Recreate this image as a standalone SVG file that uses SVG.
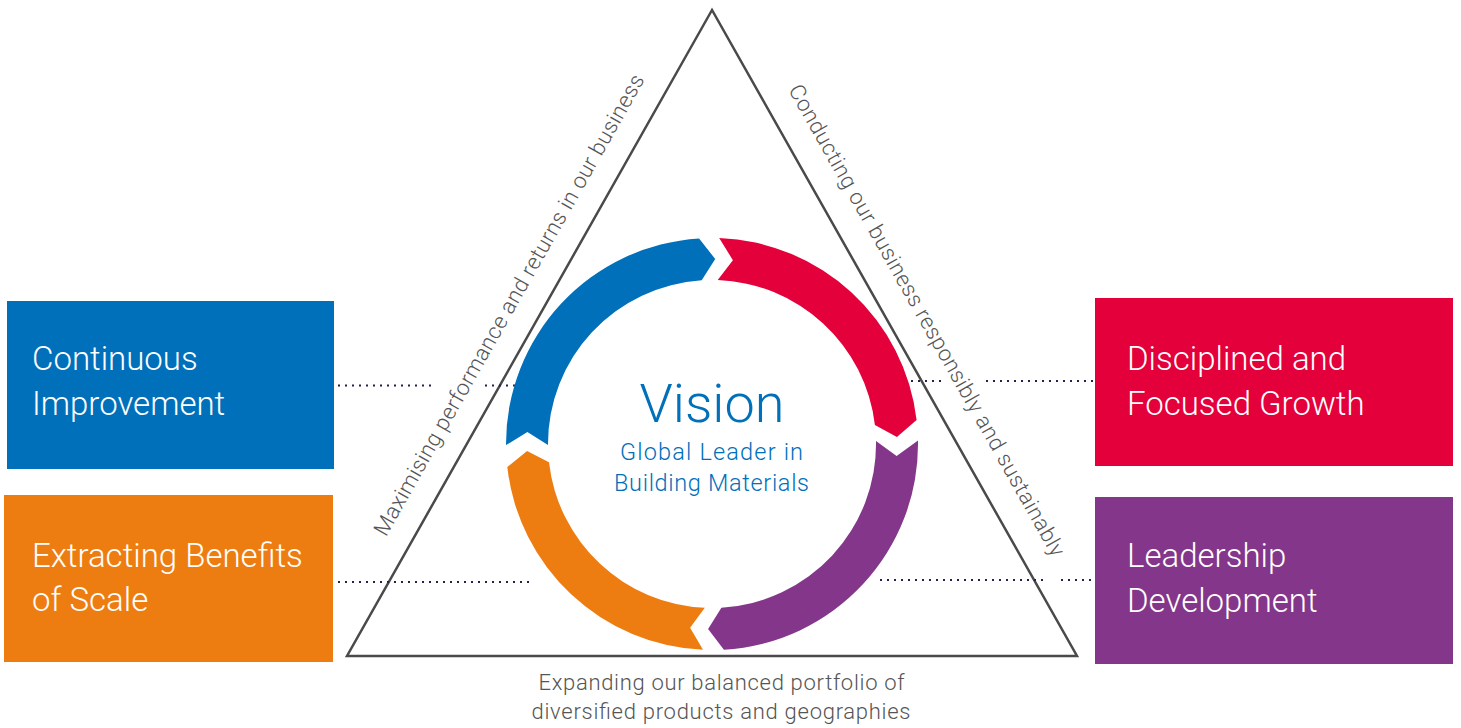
<svg xmlns="http://www.w3.org/2000/svg" width="1461" height="728" viewBox="0 0 1461 728">
<style>
.box-text{font-family:Roboto,"Open Sans","Liberation Sans",sans-serif;font-weight:300;font-size:33px;fill:#ffffff}
.side{font-family:Roboto,"Open Sans","Liberation Sans",sans-serif;font-weight:300;font-size:22px;fill:#555555}
.vision{font-family:Roboto,"Open Sans","Liberation Sans",sans-serif;font-weight:300;fill:#0070BA;text-anchor:middle}
.dots{stroke:#22224f;stroke-width:2;stroke-dasharray:2 5;fill:none}
</style>
<rect width="1461" height="728" fill="#ffffff"/>

<g id="triangle">
<polygon points="712,10 347,656 1077,656" fill="none" stroke="#4a4a4a" stroke-width="2.5" stroke-linejoin="miter"/>
</g>

<g id="connectors">
<line class="dots" x1="338" y1="385.5" x2="434" y2="385.5"/>
<line class="dots" x1="485" y1="385.5" x2="520" y2="385.5"/>
<line class="dots" x1="911" y1="381" x2="942" y2="381"/>
<line class="dots" x1="986" y1="381" x2="1094" y2="381"/>
<line class="dots" x1="338" y1="582" x2="530" y2="582"/>
<line class="dots" x1="880" y1="580" x2="1048" y2="580"/>
<line class="dots" x1="1061" y1="580" x2="1094" y2="580"/>
</g>

<g id="ring">
<path id="arrow-blue" fill="#0070BA" d="M506,445.1 A206,206 0 0 1 699.1,238.4 L715.2,259 L701.7,280.3 A164,164 0 0 0 548,444.9 L527.4,432.1 Z"/>
<path id="arrow-red" fill="#E4003B" d="M719.2,238.1 A206,206 0 0 1 916.6,420 L896.9,436.9 L874.9,424.9 A164,164 0 0 0 717.7,280.1 L732.9,260.2 Z"/>
<path id="arrow-purple" fill="#84378A" d="M918,440.4 A206,206 0 0 1 723.9,649.7 L708.1,629 L721.4,607.7 A164,164 0 0 0 876,441.1 L896.6,455.9 Z"/>
<path id="arrow-orange" fill="#EE7D11" d="M703,649.8 A206,206 0 0 1 507.3,467 L527.1,451.1 L549,462.3 A164,164 0 0 0 704.8,607.8 L690.1,627.7 Z"/>
</g>

<g id="vision">
<text class="vision" x="712" y="422" font-size="54">Vision</text>
<text class="vision" x="711.5" y="460" font-size="23.5" textLength="183" lengthAdjust="spacing">Global Leader in</text>
<text class="vision" x="711.5" y="491" font-size="23.5" textLength="195" lengthAdjust="spacing">Building Materials</text>
</g>

<g id="side-left">
<text class="side" text-anchor="middle" transform="translate(515.5,308.5) rotate(-60.5)" x="0" y="0" textLength="526" lengthAdjust="spacing">Maximising performance and returns in our business</text>
</g>
<g id="side-right">
<text class="side" text-anchor="middle" transform="translate(920.5,324) rotate(60.5)" x="0" y="0" textLength="538" lengthAdjust="spacing">Conducting our business responsibly and sustainably</text>
</g>
<g id="side-bottom">
<text class="side" text-anchor="middle" x="721.5" y="690" textLength="366" lengthAdjust="spacing">Expanding our balanced portfolio of</text>
<text class="side" text-anchor="middle" x="721" y="719" textLength="379" lengthAdjust="spacing">diversified products and geographies</text>
</g>

<g id="box-continuous">
<rect x="7" y="301" width="327" height="168" fill="#0070BA"/>
<text class="box-text" x="32" y="370">Continuous</text>
<text class="box-text" x="32" y="415">Improvement</text>
</g>
<g id="box-scale">
<rect x="4" y="495" width="329" height="167" fill="#EE7D11"/>
<text class="box-text" x="32" y="567">Extracting Benefits</text>
<text class="box-text" x="32" y="611">of Scale</text>
</g>
<g id="box-growth">
<rect x="1095" y="298" width="358" height="168" fill="#E4003B"/>
<text class="box-text" x="1127" y="370">Disciplined and</text>
<text class="box-text" x="1127" y="415">Focused Growth</text>
</g>
<g id="box-leadership">
<rect x="1095" y="497" width="358" height="167" fill="#84378A"/>
<text class="box-text" x="1127" y="567">Leadership</text>
<text class="box-text" x="1127" y="612">Development</text>
</g>
</svg>
